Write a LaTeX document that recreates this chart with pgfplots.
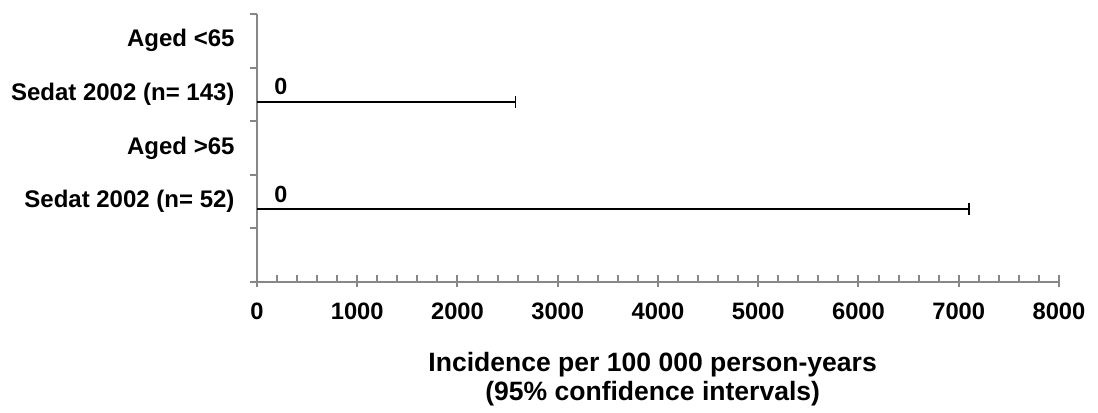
\documentclass[border=0pt]{standalone}
\usepackage{pgfplots}
\pgfplotsset{compat=1.18}
\usepackage{fontspec}
\setmainfont{Liberation Sans}
\definecolor{axgray}{HTML}{878787}
\begin{document}
\fontsize{17pt}{21.5pt}\selectfont
\begin{tikzpicture}
\path[use as bounding box] (-192.75pt,-97.5pt) rectangle (630.75pt,211.5pt);
\begin{axis}[
  at={(0,0)}, anchor=south west, scale only axis,
  width=601.5pt, height=201pt,
  xmin=0, xmax=8000, ymin=0, ymax=5,
  axis x line*=bottom, axis y line*=left,
  axis line style={axgray, line width=1.5pt},
  every tick/.style={axgray, line width=1.5pt},
  xtick={0,1000,...,8000},
  minor x tick num=4,
  xtick align=inside,
  major tick length=9pt,
  minor tick length=5.5pt,
  major x tick style={yshift=-3.75pt},
  ytick={0.5,1.5,2.5,3.5,4.5},
  yticklabels={{},{Sedat 2002 (n= 52)},{Aged >65},{Sedat 2002 (n= 143)},{Aged <65}},
  major y tick style={draw=none},
  minor ytick={0,1,...,5},
  ytick align=outside,
  xticklabel style={font=\fontsize{17.8pt}{20pt}\selectfont\bfseries, text=black, yshift=-9.5pt},
  yticklabel style={font=\fontsize{18pt}{20pt}\selectfont\bfseries, text=black, xshift=-2pt},
  /pgf/number format/assume math mode=true,
  /pgf/number format/1000 sep={},
  xlabel={Incidence per 100 000 person-years\\(95\% confidence intervals)},
  xlabel style={font=\fontsize{19.9pt}{21.75pt}\selectfont\bfseries, align=center, at={(axis description cs:0.5,0)}, anchor=north, yshift=-47pt, xshift=-4pt},
  clip=false,
  nodes near coords,
  point meta=explicit symbolic,
  every node near coord/.style={anchor=base west, inner sep=0pt, xshift=12.75pt, yshift=5.25pt, font=\fontsize{17.5pt}{20pt}\selectfont\bfseries, text=black},
]
\addplot[draw=none, mark=none,
  error bars/.cd, x dir=plus, x explicit,
  error bar style={draw=black, line width=1.1pt},
  error mark options={rotate=90, draw=black, line width=1.1pt, mark size=4.5pt}]
  coordinates {(0,3.36) +- (2580,0) [0]
               (0,1.36) +- (7100,0) [0]};
\end{axis}
\end{tikzpicture}
\end{document}
